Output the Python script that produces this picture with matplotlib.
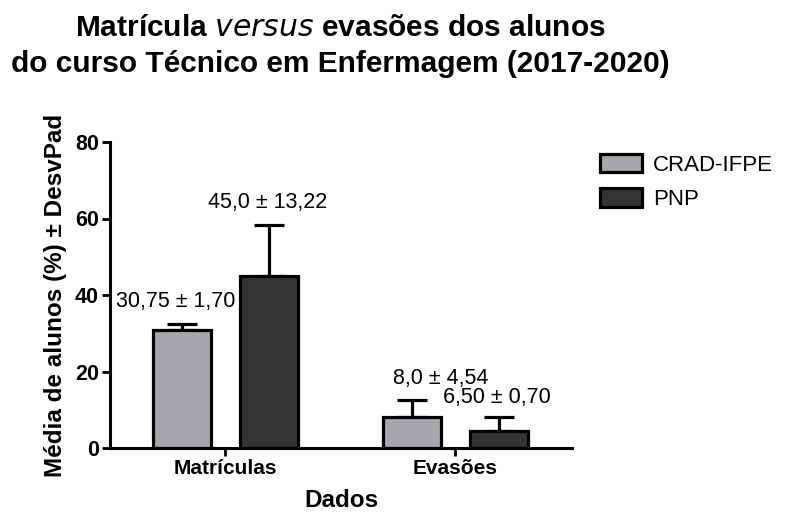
import matplotlib
matplotlib.use("Agg")
import matplotlib.pyplot as plt
from matplotlib import font_manager
from matplotlib.patches import Patch
import numpy as np

categories = ["Matrículas", "Evasões"]
series_names = ["CRAD-IFPE", "PNP"]
crad_values = [30.75, 8.0]
crad_err = [1.70, 4.54]
pnp_values = [45.0, 4.5]
pnp_err = [13.22, 3.5]
value_labels_crad = ["30,75 ± 1,70", "8,0 ± 4,54"]
value_labels_pnp = ["45,0 ± 13,22", "6,50 ± 0,70"]
label_y_crad = [38.4, 18.3]
label_y_pnp = [64.3, 13.1]
yticks = [0, 20, 40, 60, 80]

names = {f.name for f in font_manager.fontManager.ttflist}
base = "Liberation Sans" if "Liberation Sans" in names else "DejaVu Sans"
plt.rcParams['font.family'] = [base, 'DejaVu Sans']

fig = plt.figure(figsize=(7.91, 5.17), dpi=100)
ax = fig.add_axes([110/791, 1-448/517, (572-110)/791, (448-142)/517])

x = np.arange(len(categories))
w = 0.252
off = 0.19
col_crad = "#A7A7AB"
col_pnp = "#333333"
lw = 2.3

ax.bar(x - off, crad_values, w, color=col_crad, edgecolor="black", linewidth=lw, zorder=2)
ax.bar(x + off, pnp_values, w, color=col_pnp, edgecolor="black", linewidth=lw, zorder=2)
ax.errorbar(x - off, crad_values, yerr=[np.zeros(2), crad_err], fmt="none",
            ecolor="black", elinewidth=lw, capsize=11, capthick=lw, zorder=1)
ax.errorbar(x + off, pnp_values, yerr=[np.zeros(2), pnp_err], fmt="none",
            ecolor="black", elinewidth=lw, capsize=11, capthick=lw, zorder=1)

lab_x_crad = [-0.215, -0.063]
lab_x_pnp = [0.185, 0.180]
for i in range(2):
    ax.text(x[i] + lab_x_crad[i], label_y_crad[i], value_labels_crad[i],
            ha="center", va="center", fontsize=15.5)
    ax.text(x[i] + lab_x_pnp[i], label_y_pnp[i], value_labels_pnp[i],
            ha="center", va="center", fontsize=15.5)

ax.set_xlim(-0.502, 1.507)
ax.set_ylim(0, 80)
ax.set_yticks(yticks)
ax.set_xticks(x)
ax.set_xticklabels(categories, fontsize=15, fontweight="bold")
ax.set_yticklabels([str(t) for t in yticks], fontsize=15.5, fontweight="bold")
for s in ["top", "right"]:
    ax.spines[s].set_visible(False)
for s in ["left", "bottom"]:
    ax.spines[s].set_linewidth(2.2)
ax.tick_params(axis="both", width=2.0, length=6, pad=2)
ax.set_xlabel("Dados", fontsize=17.5, fontweight="bold", labelpad=8)
ax.set_ylabel("Média de alunos (%) ± DesvPad", fontsize=17.5, fontweight="bold", labelpad=6)

handles = [Patch(facecolor=col_crad, edgecolor="black", linewidth=lw),
           Patch(facecolor=col_pnp, edgecolor="black", linewidth=lw)]
fig.legend(handles, series_names, loc="upper left", bbox_to_anchor=(580/791, 1-134/517),
           frameon=False, fontsize=16, handlelength=1.9, handleheight=0.9,
           labelspacing=0.55, handletextpad=0.5)

fig.text(340/791, 1-36/517, "Matrícula $\\it{versus}$ evasões dos alunos",
         ha="center", va="baseline", fontsize=21.5, fontweight="bold")
fig.text(340/791, 1-72/517, "do curso Técnico em Enfermagem (2017-2020)",
         ha="center", va="baseline", fontsize=21.5, fontweight="bold")

fig.savefig("out.png", dpi=100)
